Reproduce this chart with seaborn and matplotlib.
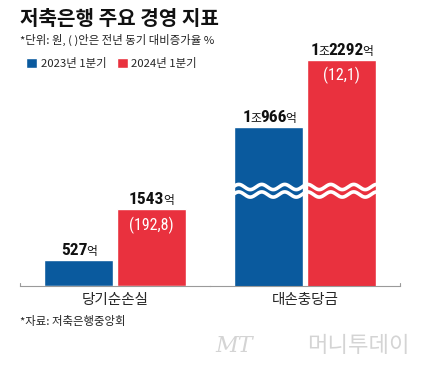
import re
import matplotlib
matplotlib.use("Agg")
import matplotlib.pyplot as plt
from matplotlib import font_manager
import seaborn as sns
import numpy as np
import pandas as pd

categories = ["당기순손실", "대손충당금"]
years = ["2023년 1분기", "2024년 1분기"]
values_2023 = [527, 10966]
values_2024 = [1543, 12292]
labels_2023 = ["527억", "1조966억"]
labels_2024 = ["1543억", "1조2292억"]
growth = ["(192,8)", "(12,1)"]

BLUE = "#0a5a9e"
RED = "#e9313e"
KR = ["Noto Sans CJK KR", "DejaVu Sans"]

# pick a narrow face for the numbers, if one is installed
fonts = font_manager.fontManager.ttflist
names = {f.name for f in fonts}
narrow_name = "Liberation Sans"
for cand in ["Liberation Sans Narrow", "DejaVu Sans Condensed", "Roboto Condensed"]:
    if cand in names:
        narrow_name = cand
        break
NARROW = [narrow_name, "Noto Sans CJK KR", "DejaVu Sans"]

sns.set_style("white")
plt.rcParams["font.family"] = KR

W, H = 421, 370
fig = plt.figure(figsize=(W / 100, H / 100), dpi=100)

base_px = 286
top_px = 40
ax_h = (base_px - top_px) / H
ax1 = fig.add_axes([20 / W, (H - base_px) / H, 190 / W, ax_h])
ax2 = fig.add_axes([210 / W, (H - base_px) / H, 190 / W, ax_h])

# y limits: ~0.0505 px per unit, second group has its axis broken
ylims = [(0, 4950), (7819, 12687)]

for i, ax in enumerate([ax1, ax2]):
    df = pd.DataFrame({
        "category": [categories[i]] * 2,
        "year": years,
        "value": [values_2023[i], values_2024[i]],
    })
    sns.barplot(data=df, x="category", y="value", hue="year",
                palette=[BLUE, RED], width=0.763, gap=0.05,
                saturation=1, ax=ax, legend=(i == 0))
    ax.set_ylim(*ylims[i])
    ax.set_xlim(-0.5, 0.5)
    ax.set_xlabel("")
    ax.set_ylabel("")
    ax.set_yticks([])
    ax.tick_params(axis="x", length=0, pad=5, labelsize=10.5)
    for s in ["top", "left", "right"]:
        ax.spines[s].set_visible(False)
    ax.spines["bottom"].set_color("#9a9a9a")
    ax.spines["bottom"].set_linewidth(0.8)
    ax.patch.set_alpha(0)

# little end ticks of the baseline
ax1.plot([0, 0], [0, 3 / 246], color="#9a9a9a", lw=0.8,
         transform=ax1.transAxes, clip_on=False)
ax2.plot([1, 1], [0, 3 / 246], color="#9a9a9a", lw=0.8,
         transform=ax2.transAxes, clip_on=False)

renderer = fig.canvas.get_renderer()


def value_label(ax, x, y, text, dy=5):
    parts = re.findall(r"\d+|\D+", text)
    texts = []
    for p in parts:
        if p.isdigit():
            kw = dict(fontsize=12.5, fontweight="bold", family=NARROW)
        else:
            kw = dict(fontsize=8.5, family=KR)
        t = ax.annotate(p, (x, y), xytext=(0, dy), textcoords="offset pixels",
                        ha="left", va="baseline", color="#111111", **kw)
        texts.append(t)
    widths = [t.get_window_extent(renderer).width - 1 for t in texts]
    cur = -sum(widths) / 2
    for t, w in zip(texts, widths):
        t.set_position((cur, dy))
        cur += w


for i, ax in enumerate([ax1, ax2]):
    b23 = ax.containers[0][0]
    b24 = ax.containers[1][0]
    x23 = b23.get_x() + b23.get_width() / 2
    x24 = b24.get_x() + b24.get_width() / 2
    value_label(ax, x23, values_2023[i], labels_2023[i])
    value_label(ax, x24, values_2024[i], labels_2024[i])
    ax.annotate(growth[i], (x24, values_2024[i]), xytext=(0, -7),
                textcoords="offset pixels", ha="center", va="top",
                color="white", fontsize=11.5, family=NARROW)

# wave break on the second group
xs = np.linspace(0, 1, 400)
lam = 23 / 190
amp = 2.6 / 246
for yc in [99 / 246, 91.5 / 246]:
    ax2.plot(xs, yc + amp * np.sin(2 * np.pi * xs / lam), color="white",
             lw=2.6, transform=ax2.transAxes, solid_capstyle="butt")

# legend
sns.move_legend(ax1, "upper left", bbox_to_anchor=(26 / W, 1 - 58 / H),
                bbox_transform=fig.transFigure, ncol=2, title=None,
                frameon=False, fontsize=8.2, handlelength=0.95,
                handleheight=0.95, handletextpad=0.35, columnspacing=0.9,
                borderpad=0, borderaxespad=0)

fig.text(20 / W, 1 - 8 / H, "저축은행 주요 경영 지표", fontsize=14.5,
         fontweight="bold", va="top", ha="left", color="#111111")
fig.text(20 / W, 1 - 34 / H, "*단위: 원, ( )안은 전년 동기 대비증가율 %",
         fontsize=8.2, va="top", ha="left", color="#222222")
fig.text(20 / W, 1 - 316 / H, "*자료: 저축은행중앙회", fontsize=8.2,
         va="top", ha="left", color="#222222")
fig.text(215 / W, 1 - 346 / H, "MT", fontsize=16, style="italic",
         va="center", ha="left", color="#d4d4d4", family=["DejaVu Serif"])
fig.text(410 / W, 1 - 346 / H, "머니투데이", fontsize=16,
         va="center", ha="right", color="#d4d4d4", fontweight="light")

fig.savefig("out.png", dpi=100)
